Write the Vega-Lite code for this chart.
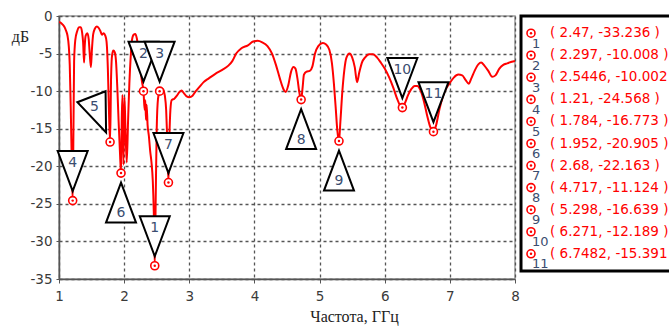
{
  "$schema": "https://vega.github.io/schema/vega-lite/v6.json",
  "background": "white",
  "padding": {"left": 10, "top": 8, "right": -4.5, "bottom": 4},
  "spacing": -8,
  "config": {
    "font": "DejaVu Sans",
    "view": {"stroke": "#9a9a9a", "strokeWidth": 1.5},
    "axis": {"grid": true, "gridColor": "#555", "gridDash": [3, 3], "gridWidth": 1.3, "gridOpacity": 1}
  },
  "datasets": {
    "curve": [
      {"f": 1.0, "db": -0.8}, {"f": 1.04, "db": -1.0}, {"f": 1.08, "db": -1.4}, {"f": 1.11, "db": -2.0},
      {"f": 1.13, "db": -2.6}, {"f": 1.15, "db": -4.0}, {"f": 1.165, "db": -6.5}, {"f": 1.18, "db": -12},
      {"f": 1.195, "db": -19}, {"f": 1.21, "db": -24.568}, {"f": 1.222, "db": -15}, {"f": 1.232, "db": -6},
      {"f": 1.25, "db": -3.2}, {"f": 1.28, "db": -2.0}, {"f": 1.31, "db": -1.5}, {"f": 1.335, "db": -1.5},
      {"f": 1.355, "db": -2.2}, {"f": 1.37, "db": -3.5}, {"f": 1.385, "db": -6.2}, {"f": 1.395, "db": -4.0},
      {"f": 1.41, "db": -2.6}, {"f": 1.435, "db": -2.3}, {"f": 1.455, "db": -3.0}, {"f": 1.47, "db": -4.8},
      {"f": 1.49, "db": -6.8}, {"f": 1.505, "db": -4.5}, {"f": 1.525, "db": -2.4}, {"f": 1.55, "db": -1.7},
      {"f": 1.58, "db": -1.4}, {"f": 1.61, "db": -1.6}, {"f": 1.635, "db": -2.0}, {"f": 1.66, "db": -2.5},
      {"f": 1.685, "db": -2.3}, {"f": 1.71, "db": -2.6}, {"f": 1.73, "db": -3.4}, {"f": 1.75, "db": -7},
      {"f": 1.765, "db": -12}, {"f": 1.784, "db": -16.773}, {"f": 1.8, "db": -8}, {"f": 1.815, "db": -5.2},
      {"f": 1.835, "db": -4.6}, {"f": 1.855, "db": -4.8}, {"f": 1.875, "db": -6}, {"f": 1.895, "db": -9.5},
      {"f": 1.915, "db": -14}, {"f": 1.935, "db": -18}, {"f": 1.952, "db": -20.905}, {"f": 1.965, "db": -13},
      {"f": 1.975, "db": -10.5}, {"f": 1.99, "db": -19.8}, {"f": 2.005, "db": -10.8}, {"f": 2.02, "db": -15},
      {"f": 2.04, "db": -19.5}, {"f": 2.06, "db": -14}, {"f": 2.08, "db": -9}, {"f": 2.1, "db": -5.5},
      {"f": 2.12, "db": -3.2}, {"f": 2.145, "db": -2.5}, {"f": 2.17, "db": -2.4}, {"f": 2.195, "db": -3.0},
      {"f": 2.22, "db": -4.5}, {"f": 2.25, "db": -7.0}, {"f": 2.275, "db": -8.8}, {"f": 2.297, "db": -10.008},
      {"f": 2.315, "db": -12.5}, {"f": 2.325, "db": -11.2}, {"f": 2.335, "db": -13.8}, {"f": 2.345, "db": -11.8},
      {"f": 2.36, "db": -14.5}, {"f": 2.38, "db": -16}, {"f": 2.4, "db": -18}, {"f": 2.42, "db": -19.5},
      {"f": 2.44, "db": -22}, {"f": 2.455, "db": -26}, {"f": 2.47, "db": -33.236}, {"f": 2.485, "db": -24},
      {"f": 2.5, "db": -15}, {"f": 2.52, "db": -11}, {"f": 2.5446, "db": -10.002}, {"f": 2.57, "db": -9.6},
      {"f": 2.6, "db": -9.8}, {"f": 2.625, "db": -10.6}, {"f": 2.645, "db": -12.5}, {"f": 2.66, "db": -16},
      {"f": 2.68, "db": -22.163}, {"f": 2.695, "db": -16}, {"f": 2.71, "db": -12.5}, {"f": 2.73, "db": -11.2},
      {"f": 2.77, "db": -11.0}, {"f": 2.81, "db": -10.6}, {"f": 2.85, "db": -10.1}, {"f": 2.88, "db": -9.9},
      {"f": 2.92, "db": -10.3}, {"f": 2.96, "db": -10.7}, {"f": 3.0, "db": -10.8}, {"f": 3.05, "db": -10.6},
      {"f": 3.1, "db": -10.0}, {"f": 3.15, "db": -9.5}, {"f": 3.22, "db": -8.8}, {"f": 3.3, "db": -8.3},
      {"f": 3.4, "db": -7.7}, {"f": 3.5, "db": -7.2}, {"f": 3.6, "db": -6.6}, {"f": 3.66, "db": -6.0},
      {"f": 3.72, "db": -5.0}, {"f": 3.8, "db": -4.3}, {"f": 3.9, "db": -3.9}, {"f": 3.98, "db": -3.4},
      {"f": 4.05, "db": -3.3}, {"f": 4.12, "db": -3.5}, {"f": 4.2, "db": -4.0}, {"f": 4.27, "db": -5.0},
      {"f": 4.33, "db": -6.5}, {"f": 4.39, "db": -8.3}, {"f": 4.45, "db": -9.8}, {"f": 4.48, "db": -10.1},
      {"f": 4.52, "db": -9.2}, {"f": 4.56, "db": -7.5}, {"f": 4.6, "db": -6.8}, {"f": 4.63, "db": -7.0},
      {"f": 4.66, "db": -8.3}, {"f": 4.69, "db": -10.2}, {"f": 4.717, "db": -11.124}, {"f": 4.74, "db": -9.5},
      {"f": 4.76, "db": -7.8}, {"f": 4.8, "db": -7.4}, {"f": 4.85, "db": -7.3}, {"f": 4.89, "db": -6.7},
      {"f": 4.93, "db": -5.0}, {"f": 4.98, "db": -4.0}, {"f": 5.05, "db": -3.6}, {"f": 5.1, "db": -3.8},
      {"f": 5.15, "db": -4.5}, {"f": 5.19, "db": -6.3}, {"f": 5.22, "db": -9}, {"f": 5.25, "db": -12.5},
      {"f": 5.27, "db": -15}, {"f": 5.298, "db": -16.639}, {"f": 5.32, "db": -14}, {"f": 5.35, "db": -10},
      {"f": 5.38, "db": -7.2}, {"f": 5.41, "db": -5.6}, {"f": 5.46, "db": -5.0}, {"f": 5.5, "db": -5.5},
      {"f": 5.54, "db": -6.8}, {"f": 5.575, "db": -8.8}, {"f": 5.61, "db": -7.5}, {"f": 5.65, "db": -6.2},
      {"f": 5.7, "db": -5.5}, {"f": 5.76, "db": -5.1}, {"f": 5.82, "db": -5.1}, {"f": 5.88, "db": -5.5},
      {"f": 5.94, "db": -6.2}, {"f": 6.0, "db": -7.0}, {"f": 6.07, "db": -8.2}, {"f": 6.13, "db": -9.5},
      {"f": 6.19, "db": -11.0}, {"f": 6.235, "db": -11.9}, {"f": 6.271, "db": -12.189}, {"f": 6.31, "db": -11.6},
      {"f": 6.36, "db": -10.5}, {"f": 6.41, "db": -9.7}, {"f": 6.46, "db": -9.3}, {"f": 6.5, "db": -9.3},
      {"f": 6.55, "db": -9.9}, {"f": 6.6, "db": -11.3}, {"f": 6.65, "db": -13.2}, {"f": 6.7, "db": -14.8},
      {"f": 6.7482, "db": -15.391}, {"f": 6.79, "db": -14.5}, {"f": 6.84, "db": -12.4}, {"f": 6.89, "db": -10.8},
      {"f": 6.94, "db": -9.7}, {"f": 7.0, "db": -8.9}, {"f": 7.06, "db": -8.2}, {"f": 7.13, "db": -7.8},
      {"f": 7.19, "db": -7.9}, {"f": 7.24, "db": -8.5}, {"f": 7.29, "db": -9.0}, {"f": 7.33, "db": -8.3},
      {"f": 7.38, "db": -7.3}, {"f": 7.44, "db": -6.4}, {"f": 7.48, "db": -6.2}, {"f": 7.53, "db": -6.6},
      {"f": 7.59, "db": -7.3}, {"f": 7.65, "db": -8.1}, {"f": 7.7, "db": -7.9}, {"f": 7.76, "db": -7.0},
      {"f": 7.82, "db": -6.5}, {"f": 7.88, "db": -6.3}, {"f": 7.95, "db": -6.1}, {"f": 8.0, "db": -6.0}
    ],
    "markers": [
      {"id": 1, "f": 2.47, "db": -33.236, "pointer": "down", "label": "( 2.47, -33.236 )"},
      {"id": 2, "f": 2.297, "db": -10.008, "pointer": "down", "label": "( 2.297, -10.008 )"},
      {"id": 3, "f": 2.5446, "db": -10.002, "pointer": "down", "label": "( 2.5446, -10.002 )"},
      {"id": 4, "f": 1.21, "db": -24.568, "pointer": "down", "label": "( 1.21, -24.568 )"},
      {"id": 5, "f": 1.784, "db": -16.773, "pointer": "diag", "label": "( 1.784, -16.773 )"},
      {"id": 6, "f": 1.952, "db": -20.905, "pointer": "up", "label": "( 1.952, -20.905 )"},
      {"id": 7, "f": 2.68, "db": -22.163, "pointer": "down", "label": "( 2.68, -22.163 )"},
      {"id": 8, "f": 4.717, "db": -11.124, "pointer": "up", "label": "( 4.717, -11.124 )"},
      {"id": 9, "f": 5.298, "db": -16.639, "pointer": "up", "label": "( 5.298, -16.639 )"},
      {"id": 10, "f": 6.271, "db": -12.189, "pointer": "down", "label": "( 6.271, -12.189 )"},
      {"id": 11, "f": 6.7482, "db": -15.391, "pointer": "down", "label": "( 6.7482, -15.391 )"}
    ]
  },
  "hconcat": [
    {
      "width": 456,
      "height": 263,
      "layer": [
        {
          "data": {"name": "curve"},
          "mark": {"type": "line", "color": "#ff0000", "strokeWidth": 2, "interpolate": "monotone", "clip": true},
          "encoding": {
            "x": {
              "field": "f", "type": "quantitative",
              "scale": {"domain": [1, 8], "nice": false, "zero": false},
              "axis": {
                "values": [1, 2, 3, 4, 5, 6, 7, 8],
                "tickCount": 12,
                "format": "d",
                "labelFlush": false,
                "labelOverlap": false,
                "title": "Частота, ГГц",
                "titleX": 295, "titleY": 37, "titleAlign": "center", "titleBaseline": "middle",
                "titleFont": "Liberation Serif", "titleFontSize": 16, "titleFontWeight": "normal", "titleColor": "#222",
                "labelFontSize": 13.5, "labelColor": "#3a3a3a", "labelPadding": 6,
                "tickSize": 4, "tickColor": "#555", "domainColor": "#555", "domainWidth": 1.5,
                "grid": true, "gridColor": "#555", "gridDash": [3, 3], "gridWidth": 1.3, "gridOpacity": 1
              }
            },
            "y": {
              "field": "db", "type": "quantitative",
              "scale": {"domain": [-35, 0], "nice": false},
              "axis": {
                "values": [-35, -30, -25, -20, -15, -10, -5, 0],
                "tickCount": 10,
                "labelExpr": "'' + datum.value",
                "labelOverlap": false,
                "labelFlush": false,
                "title": "дБ",
                "titleAngle": 0, "titleX": -39, "titleY": 20, "titleAlign": "center", "titleBaseline": "middle",
                "titleFont": "Liberation Serif", "titleFontSize": 16, "titleFontWeight": "normal", "titleColor": "#222",
                "labelFontSize": 13.5, "labelColor": "#3a3a3a", "labelPadding": 4,
                "tickSize": 3, "tickColor": "#555", "domainColor": "#555", "domainWidth": 1.5,
                "grid": true, "gridColor": "#555", "gridDash": [3, 3], "gridWidth": 1.3, "gridOpacity": 1
              }
            }
          }
        },
        {
          "data": {"name": "markers"},
          "mark": {"type": "point", "size": 4, "filled": true, "fill": "white", "stroke": "black", "strokeWidth": 2, "opacity": 1},
          "encoding": {
            "x": {"field": "f", "type": "quantitative"},
            "y": {"field": "db", "type": "quantitative"},
            "shape": {
              "field": "pointer", "type": "nominal",
              "scale": {"domain": ["down", "up", "diag"], "range": ["M-15,-49.5L15,-49.5L0,-9.5Z", "M0,9.5L15,49.5L-15,49.5Z", "M-4,-9.5L-4.5,-50.8L-32.7,-39.8Z"]},
              "legend": null
            }
          }
        },
        {
          "data": {"name": "markers"},
          "transform": [{"filter": "datum.pointer == 'down'"}],
          "mark": {"type": "text", "dy": -37.5, "baseline": "middle", "align": "center", "fontSize": 14, "color": "#3b4d70"},
          "encoding": {
            "x": {"field": "f", "type": "quantitative"},
            "y": {"field": "db", "type": "quantitative"},
            "text": {"field": "id"}
          }
        },
        {
          "data": {"name": "markers"},
          "transform": [{"filter": "datum.pointer == 'up'"}],
          "mark": {"type": "text", "dy": 40, "baseline": "middle", "align": "center", "fontSize": 14, "color": "#3b4d70"},
          "encoding": {
            "x": {"field": "f", "type": "quantitative"},
            "y": {"field": "db", "type": "quantitative"},
            "text": {"field": "id"}
          }
        },
        {
          "data": {"name": "markers"},
          "transform": [{"filter": "datum.pointer == 'diag'"}],
          "mark": {"type": "text", "dx": -15.5, "dy": -35, "baseline": "middle", "align": "center", "fontSize": 14, "color": "#3b4d70"},
          "encoding": {
            "x": {"field": "f", "type": "quantitative"},
            "y": {"field": "db", "type": "quantitative"},
            "text": {"field": "id"}
          }
        },
        {
          "data": {"name": "markers"},
          "mark": {"type": "point", "shape": "circle", "size": 64, "filled": true, "fill": "white", "stroke": "#ff0000", "strokeWidth": 1.6, "opacity": 1},
          "encoding": {
            "x": {"field": "f", "type": "quantitative"},
            "y": {"field": "db", "type": "quantitative"}
          }
        },
        {
          "data": {"name": "markers"},
          "mark": {"type": "point", "shape": "circle", "size": 6, "filled": true, "fill": "#ff0000", "strokeWidth": 0, "opacity": 1},
          "encoding": {
            "x": {"field": "f", "type": "quantitative"},
            "y": {"field": "db", "type": "quantitative"}
          }
        }
      ]
    },
    {
      "width": 158,
      "height": 255,
      "view": {"stroke": "black", "strokeWidth": 3, "fill": "white"},
      "data": {"name": "markers"},
      "encoding": {
        "y": {"field": "id", "type": "ordinal", "scale": {"type": "point", "padding": 0.78}, "axis": null}
      },
      "layer": [
        {
          "mark": {"type": "point", "shape": "circle", "size": 64, "filled": true, "fill": "white", "stroke": "#ff0000", "strokeWidth": 1.6, "opacity": 1},
          "encoding": {
            "x": {"datum": "sym", "type": "nominal", "scale": {"type": "point", "domain": ["sym", "txt"], "range": [10, 29], "padding": 0}, "axis": null}
          }
        },
        {
          "mark": {"type": "point", "shape": "circle", "size": 6, "filled": true, "fill": "#ff0000", "strokeWidth": 0, "opacity": 1},
          "encoding": {
            "x": {"datum": "sym", "type": "nominal"}
          }
        },
        {
          "mark": {"type": "text", "align": "left", "baseline": "middle", "dx": 1, "dy": 10.5, "fontSize": 13, "color": "#3b4d70"},
          "encoding": {
            "x": {"datum": "sym", "type": "nominal"},
            "text": {"field": "id"}
          }
        },
        {
          "mark": {"type": "text", "align": "left", "baseline": "middle", "fontSize": 13.5, "color": "#ff0000"},
          "encoding": {
            "x": {"datum": "txt", "type": "nominal"},
            "text": {"field": "label"}
          }
        }
      ]
    }
  ]
}
